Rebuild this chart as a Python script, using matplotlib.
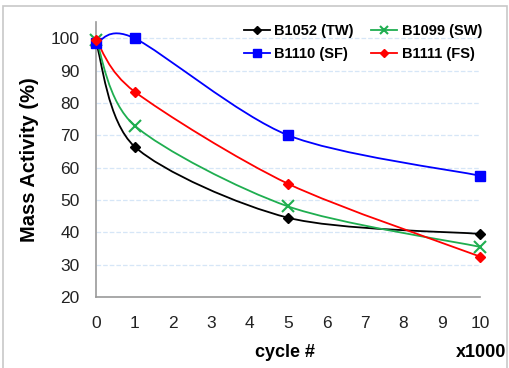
import matplotlib
matplotlib.use('Agg')
import matplotlib.pyplot as plt
from matplotlib.path import Path
from matplotlib.patches import PathPatch, Rectangle
from matplotlib.lines import Line2D
import numpy as np

plt.rcParams['font.family'] = ['Liberation Sans', 'DejaVu Sans']

cycles = [0, 1, 5, 10]
b1052_tw = [98.5, 66.5, 44.5, 39.5]
b1099_sw = [99.5, 73.0, 48.0, 35.5]
b1110_sf = [98.5, 100.0, 70.0, 57.5]
b1111_fs = [99.5, 83.5, 55.0, 32.5]

series = [
    ('B1052 (TW)', b1052_tw, 'black', 'D', 5, 1.3),
    ('B1099 (SW)', b1099_sw, '#1fae50', 'x', 8, 1.3),
    ('B1110 (SF)', b1110_sf, '#0000ff', 's', 7, 1.3),
    ('B1111 (FS)', b1111_fs, '#ff0000', 'D', 5, 1.3),
]


def smooth_path(xs, ys, k=6.0):
    # Excel-style smoothed line: cubic Bezier through points
    pts = np.column_stack([xs, ys]).astype(float)
    n = len(pts)
    verts = [pts[0]]
    codes = [Path.MOVETO]
    for i in range(n - 1):
        p_prev = pts[i - 1] if i > 0 else pts[i]
        p_next2 = pts[i + 2] if i + 2 < n else pts[i + 1]
        c1 = pts[i] + (pts[i + 1] - p_prev) / k
        c2 = pts[i + 1] - (p_next2 - pts[i]) / k
        verts += [c1, c2, pts[i + 1]]
        codes += [Path.CURVE4] * 3
    return Path(verts, codes)


fig = plt.figure(figsize=(5.09, 3.68), dpi=100)
ax = fig.add_axes([0.189, 0.193, 0.754, 0.747])

for label, vals, color, marker, ms, lw in series:
    ax.add_patch(PathPatch(smooth_path(cycles, vals, 7.0), facecolor='none',
                           edgecolor=color, lw=lw, zorder=3))
    ax.plot(cycles, vals, linestyle='none', marker=marker, color=color,
            markersize=ms, markeredgewidth=1.5 if marker == 'x' else 1,
            zorder=4, clip_on=False)

ax.set_xlim(0, 10)
ax.set_ylim(20, 105)
ax.set_xticks(range(0, 11))
ax.set_yticks(range(20, 101, 10))
ax.tick_params(length=0, labelsize=12.5, colors='#222222')
ax.tick_params(axis='x', pad=14)
ax.tick_params(axis='y', pad=12)

ax.yaxis.grid(True, color='#d6e6f7', linestyle='--', lw=0.9)
ax.set_axisbelow(True)
for s in ['top', 'right']:
    ax.spines[s].set_visible(False)
for s in ['left', 'bottom']:
    ax.spines[s].set_color('#9a9a9a')
    ax.spines[s].set_linewidth(1.2)

ax.set_ylabel('Mass Activity (%)', fontsize=14.5, fontweight='bold', labelpad=8)
fig.text(0.56, 0.03, 'cycle #', fontsize=13, fontweight='bold', ha='center')
fig.text(0.995, 0.03, 'x1000', fontsize=13, fontweight='bold', ha='right')

# legend fills column-wise, so order for rows: TW SW / SF FS
order = [0, 2, 1, 3]
handles = [Line2D([], [], color=series[i][2], marker=series[i][3],
                  markersize=series[i][4] * 0.8, lw=1.3,
                  markeredgewidth=1.5 if series[i][3] == 'x' else 1)
           for i in order]
labels = [series[i][0] for i in order]
leg = ax.legend(handles, labels, ncol=2, frameon=False, loc='upper right',
                bbox_to_anchor=(1.04, 1.04), fontsize=10.5, handlelength=1.8,
                handletextpad=0.3, columnspacing=1.2, labelspacing=0.6)
for t in leg.get_texts():
    t.set_fontweight('bold')

fig.patches.append(Rectangle((0.006, -0.1), 0.99, 1.083, transform=fig.transFigure,
                             fill=False, edgecolor='#c8c8c8', lw=1.2))

fig.savefig('out.png', dpi=100)
